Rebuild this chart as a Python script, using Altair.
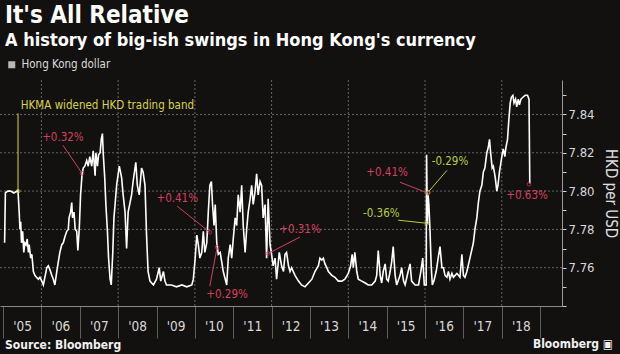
import altair as alt
import pandas as pd

FONT = "DejaVu Sans Condensed, Liberation Sans Narrow, DejaVu Sans, sans-serif"

# ---- Hong Kong dollar per USD (decimal year, value) ----
years = [
    2005.04, 2005.06, 2005.12, 2005.20, 2005.28, 2005.36, 2005.39,
    2005.42, 2005.44, 2005.46, 2005.48, 2005.51, 2005.54, 2005.57, 2005.60, 2005.63,
    2005.66, 2005.68, 2005.72, 2005.75, 2005.79, 2005.83, 2005.87, 2005.92, 2005.96,
    2006.01, 2006.05, 2006.09, 2006.14, 2006.18, 2006.22, 2006.27, 2006.31, 2006.35,
    2006.40, 2006.44, 2006.48, 2006.53, 2006.57, 2006.61, 2006.66, 2006.70, 2006.72,
    2006.76, 2006.79, 2006.81, 2006.85, 2006.88, 2006.92, 2006.95, 2006.99,
    2007.02, 2007.06, 2007.09, 2007.13, 2007.18, 2007.22, 2007.26, 2007.31, 2007.35,
    2007.40, 2007.42, 2007.46, 2007.49, 2007.53, 2007.56, 2007.59, 2007.61, 2007.65,
    2007.68, 2007.72, 2007.75, 2007.79, 2007.82, 2007.86, 2007.89, 2007.92, 2007.96,
    2008.03, 2008.09, 2008.13, 2008.18, 2008.22, 2008.26, 2008.31, 2008.35, 2008.39,
    2008.46, 2008.50, 2008.55, 2008.61, 2008.65, 2008.70, 2008.74, 2008.78, 2008.83,
    2008.92, 2009.00, 2009.07, 2009.11, 2009.18, 2009.22, 2009.26, 2009.39, 2009.52,
    2009.66, 2009.79, 2009.92, 2009.96,
    2010.00, 2010.05, 2010.09, 2010.13, 2010.18, 2010.22, 2010.26, 2010.31, 2010.35,
    2010.39, 2010.43, 2010.46, 2010.50, 2010.53, 2010.57, 2010.61, 2010.66, 2010.74,
    2010.83, 2010.87, 2010.92, 2010.96,
    2011.00, 2011.05, 2011.09, 2011.13, 2011.18, 2011.22, 2011.26, 2011.31, 2011.35,
    2011.39, 2011.44, 2011.48, 2011.52, 2011.57, 2011.61, 2011.65, 2011.70, 2011.74,
    2011.78, 2011.83, 2011.87, 2011.91, 2011.96,
    2012.00, 2012.04, 2012.09, 2012.13, 2012.20, 2012.26, 2012.31, 2012.35, 2012.39,
    2012.44, 2012.48, 2012.52, 2012.61, 2012.70, 2012.78, 2012.87, 2012.96,
    2013.05, 2013.13, 2013.22, 2013.26, 2013.31, 2013.35, 2013.39, 2013.44, 2013.48,
    2013.57, 2013.65, 2013.74, 2013.83, 2013.91,
    2014.00, 2014.06, 2014.10, 2014.13, 2014.17, 2014.22, 2014.26, 2014.35, 2014.44,
    2014.52, 2014.61, 2014.70, 2014.74, 2014.78, 2014.83, 2014.87, 2014.91, 2014.96,
    2015.00, 2015.04, 2015.09, 2015.13, 2015.17, 2015.22, 2015.26, 2015.35, 2015.39,
    2015.44, 2015.48, 2015.56, 2015.61, 2015.65, 2015.74, 2015.83, 2015.89, 2015.94,
    2015.98,
    2016.03, 2016.04, 2016.06, 2016.08, 2016.10, 2016.13, 2016.16, 2016.19, 2016.23,
    2016.29, 2016.35, 2016.39, 2016.44, 2016.48, 2016.52, 2016.57, 2016.61, 2016.65,
    2016.70, 2016.74, 2016.83, 2016.87, 2016.91, 2016.96,
    2017.00, 2017.04, 2017.09, 2017.17, 2017.26, 2017.30, 2017.35, 2017.39, 2017.43,
    2017.48, 2017.52, 2017.56, 2017.61, 2017.65, 2017.68, 2017.71, 2017.75, 2017.78,
    2017.83, 2017.87, 2017.90, 2017.94, 2017.97,
    2018.01, 2018.04, 2018.08, 2018.11, 2018.15, 2018.18, 2018.22, 2018.25, 2018.29,
    2018.32, 2018.36, 2018.39, 2018.43, 2018.46, 2018.50, 2018.55, 2018.61, 2018.67,
    2018.71, 2018.73,
]
hkd = [
    7.773, 7.799, 7.800, 7.800, 7.799, 7.800, 7.800,
    7.789, 7.780, 7.784, 7.773, 7.779, 7.768, 7.773, 7.772, 7.775,
    7.768, 7.772, 7.765, 7.767, 7.758, 7.756, 7.755, 7.754, 7.755,
    7.753, 7.751, 7.755, 7.760, 7.761, 7.759, 7.756, 7.754, 7.751,
    7.758, 7.763, 7.768, 7.772, 7.773, 7.776, 7.779, 7.780, 7.786,
    7.789, 7.794, 7.786, 7.789, 7.780, 7.779, 7.769, 7.782,
    7.798, 7.809, 7.812, 7.813, 7.816, 7.813, 7.818, 7.813, 7.821,
    7.808, 7.820, 7.813, 7.819, 7.820, 7.827, 7.830, 7.820, 7.807,
    7.793, 7.779, 7.765, 7.754, 7.751, 7.768, 7.786, 7.793, 7.803,
    7.813, 7.807, 7.798, 7.789, 7.770, 7.789, 7.794, 7.798, 7.805,
    7.815, 7.803, 7.798, 7.812, 7.810, 7.803, 7.777, 7.758, 7.753,
    7.751, 7.754, 7.760, 7.753, 7.758, 7.753, 7.751, 7.751, 7.750,
    7.751, 7.750, 7.751, 7.754,
    7.763, 7.777, 7.772, 7.765, 7.768, 7.779, 7.768, 7.773, 7.789,
    7.803, 7.805, 7.793, 7.782, 7.793, 7.773, 7.767, 7.768, 7.758,
    7.751, 7.765, 7.772, 7.765,
    7.775, 7.786, 7.782, 7.798, 7.789, 7.803, 7.782, 7.768, 7.780,
    7.789, 7.796, 7.803, 7.793, 7.800, 7.809, 7.798, 7.805, 7.803,
    7.786, 7.793, 7.765, 7.796, 7.772,
    7.767, 7.761, 7.765, 7.754, 7.768, 7.761, 7.758, 7.767, 7.768,
    7.761, 7.758, 7.760, 7.756, 7.753, 7.751, 7.750, 7.752,
    7.754, 7.758, 7.761, 7.765, 7.764, 7.765, 7.762, 7.760, 7.758,
    7.756, 7.755, 7.753, 7.753, 7.754,
    7.757, 7.761, 7.767, 7.760, 7.768, 7.758, 7.754, 7.753, 7.752,
    7.751, 7.751, 7.753, 7.756, 7.769, 7.756, 7.752, 7.758, 7.762,
    7.754, 7.753, 7.758, 7.763, 7.771, 7.756, 7.751, 7.756, 7.760,
    7.753, 7.751, 7.758, 7.762, 7.753, 7.751, 7.751, 7.758, 7.765,
    7.751,
    7.751, 7.819, 7.783, 7.798, 7.793, 7.779, 7.761, 7.751, 7.753,
    7.758, 7.766, 7.771, 7.760, 7.760, 7.756, 7.755, 7.758, 7.754,
    7.757, 7.755, 7.757, 7.756, 7.755, 7.767,
    7.756, 7.755, 7.758, 7.765, 7.773, 7.780, 7.786, 7.794, 7.800,
    7.803, 7.810, 7.812, 7.820, 7.823, 7.827, 7.820, 7.812, 7.813,
    7.807, 7.800, 7.803, 7.810, 7.814,
    7.819, 7.822, 7.818, 7.823, 7.827, 7.836, 7.846, 7.849, 7.850,
    7.846, 7.848, 7.844, 7.848, 7.845, 7.848, 7.849, 7.850, 7.850,
    7.848, 7.804,
]
series_name = "Hong Kong dollar"

# gridlines / ticks
grid_years = [2006, 2008, 2010, 2012, 2014, 2016, 2018]
grid_values = [7.76, 7.78, 7.80, 7.82, 7.84]
tick_years = list(range(2005, 2020))
tick_values = [7.74, 7.75, 7.76, 7.77, 7.78, 7.79, 7.80, 7.81, 7.82, 7.83, 7.84, 7.85]

# headline texts
title_text = "It's All Relative"
subtitle_text = "A history of big-ish swings in Hong Kong's currency"
source_text = "Source: Bloomberg"
brand_text = "Bloomberg \u25A3"

# annotations
YEL, PINK, GRN = "#d6d34a", "#d3405f", "#b4cf3c"
ann_labels = ["HKMA widened HKD trading band", "+0.32%", "+0.41%", "+0.29%", "+0.31%",
              "+0.41%", "-0.29%", "-0.36%", "+0.63%"]
ann_text_year = [2007.72, 2006.56, 2009.54, 2010.84, 2012.74, 2015.01, 2016.65, 2014.86, 2018.66]
ann_text_value = [7.8443, 7.8276, 7.7957, 7.7460, 7.7795, 7.8097, 7.8150, 7.7879, 7.7973]
ann_colors = [YEL, PINK, PINK, PINK, PINK, PINK, GRN, GRN, PINK]
seg_year1 = [2005.39, 2006.56, 2009.54, 2010.39, 2012.74, 2015.35, 2016.57, 2015.30]
seg_value1 = [7.8406, 7.8239, 7.7921, 7.7503, 7.7760, 7.8046, 7.8108, 7.7848]
seg_year2 = [2005.39, 2007.06, 2010.39, 2010.58, 2011.91, 2016.08, 2016.08, 2016.05]
seg_value2 = [7.7999, 7.8093, 7.7785, 7.7707, 7.7674, 7.7989, 7.7994, 7.7832]
seg_colors = [YEL, PINK, PINK, PINK, PINK, PINK, GRN, GRN]
pt_year = seg_year2 + [2018.71]
pt_value = seg_value2 + [7.8036]
pt_colors = seg_colors + [PINK]

line_df = pd.DataFrame({"year": years, "value": hkd, "series": series_name})
gx_df = pd.DataFrame({"year": grid_years})
gy_df = pd.DataFrame({"value": grid_values})
txt_df = pd.DataFrame({"year": ann_text_year, "value": ann_text_value,
                       "label": ann_labels, "col": ann_colors})
seg_df = pd.DataFrame({"year": seg_year1, "value": seg_value1, "year2": seg_year2,
                       "value2": seg_value2, "col": seg_colors})
pt_df = pd.DataFrame({"year": pt_year, "value": pt_value, "col": pt_colors})

xscale = alt.Scale(domain=[2004.92, 2019.57], nice=False, zero=False)
yscale = alt.Scale(domain=[7.74, 7.858], nice=False, zero=False)

x_axis = alt.Axis(
    values=tick_years,
    labelExpr="datum.value < 2019 ? \"'\" + substring(toString(datum.value), 2, 4) : ''",
    labelOffset=19, tickSize=32, tickColor="#5e5e5e", domainColor="#8a8a8a",
    labelColor="#d8d8d8", labelFontSize=13.5, labelFont=FONT, labelPadding=-19,
    labelFlush=False, labelOverlap=False, grid=False, title=None,
)
y_axis = alt.Axis(
    orient="right", values=tick_values,
    labelExpr="datum.value > 7.745 && round(datum.value * 100) % 2 == 0 ? format(datum.value, '.2f') : ''",
    tickSize=4, tickColor="#cfcfcf", domainColor="#9a9a9a", labelColor="#d8d8d8",
    labelFontSize=13, labelFont=FONT, labelPadding=2, grid=False,
    title="HKD per USD", titleAngle=90, titleColor="#e0e0e0", titleFontSize=15,
    titleFont=FONT, titleFontWeight="normal", titlePadding=8,
)

X = alt.X("year:Q", scale=xscale, axis=x_axis)
Y = alt.Y("value:Q", scale=yscale, axis=y_axis)

grid_x = alt.Chart(gx_df).mark_rule(color="#666666", strokeWidth=1, strokeDash=[2, 2]).encode(x=X)
grid_y = alt.Chart(gy_df).mark_rule(color="#666666", strokeWidth=1, strokeDash=[2, 2]).encode(y=Y)

line = alt.Chart(line_df).mark_line(strokeWidth=1.6, interpolate="linear").encode(
    x=X, y=Y,
    color=alt.Color("series:N", scale=alt.Scale(range=["#ffffff"]),
                    legend=alt.Legend(orient="none", legendX=4, legendY=-21, title=None,
                                      symbolType="square", symbolSize=9, symbolStrokeWidth=4,
                                      symbolFillColor="#ffffff", symbolStrokeColor="#ffffff",
                                      symbolOpacity=1, symbolOffset=2, labelOffset=4,
                                      labelColor="#dcdcdc", labelFontSize=11.5, labelFont=FONT)),
)

segs = alt.Chart(seg_df).mark_rule(strokeWidth=1).encode(
    x=X, y=Y, x2="year2:Q", y2="value2:Q", color=alt.Color("col:N", scale=None))
pts = alt.Chart(pt_df).mark_point(shape="circle", filled=False, size=14, strokeWidth=1).encode(
    x=X, y=Y, color=alt.Color("col:N", scale=None))
texts = alt.Chart(txt_df).mark_text(fontSize=11.5, font=FONT, baseline="middle", align="center").encode(
    x=X, y=Y, text="label:N", color=alt.Color("col:N", scale=None))


def label_layer(txt, px, py, size, align="left", color="#ffffff"):
    return alt.Chart(pd.DataFrame({"label": [txt]})).mark_text(
        align=align, baseline="middle", fontSize=size, fontWeight="bold", font=FONT, color=color
    ).encode(text="label:N", x=alt.value(px), y=alt.value(py))


head = label_layer(title_text, 5, -64, 24)
sub = label_layer(subtitle_text, 5, -39, 18)
src = label_layer(source_text, 5, 265, 12, color="#f0f0f0")
brand = label_layer(brand_text, 613, 264, 12, align="right", color="#f0f0f0")

chart = alt.layer(grid_x, grid_y, line, segs, pts, texts, head, sub, src, brand).properties(
    width=562, height=226,
    autosize=alt.AutoSizeParams(type="none"),
    padding={"left": 0, "top": 80, "right": 58, "bottom": 48},
    background="#131110",
).configure_view(strokeWidth=0)

chart.save("out.html", embed_options={"renderer": "svg", "actions": False})
